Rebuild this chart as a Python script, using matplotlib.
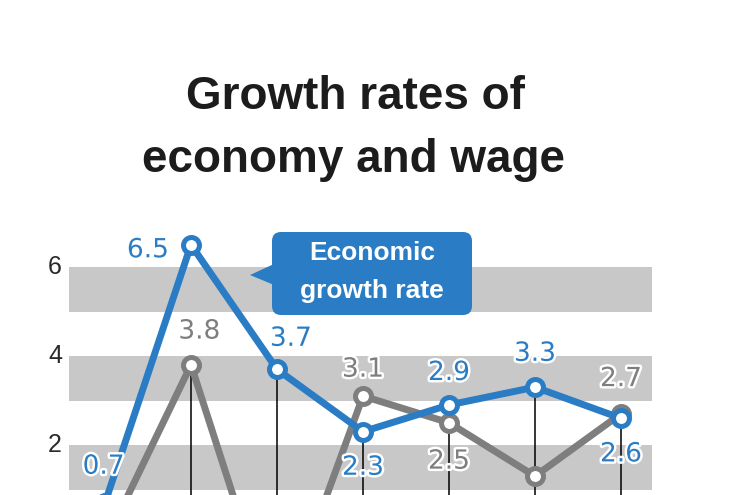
import matplotlib
matplotlib.use('Agg')
import matplotlib.pyplot as plt
import matplotlib.patheffects as pe
from matplotlib.patches import FancyBboxPatch, Polygon
from matplotlib.transforms import Affine2D

# data (2009-2015, %)
years = ['2009', '2010', '2011', '2012', '2013', '2014', '2015']
economy = [0.7, 6.5, 3.7, 2.3, 2.9, 3.3, 2.6]
wage = [-0.2, 3.8, -2.2, 3.1, 2.5, 1.3, 2.7]
drop_top = [None, 3.8, 3.7, 2.3, 2.5, 3.3, 2.6]
yticks = [2, 4, 6]
bands = [(1, 2), (3, 4), (5, 6)]

blue = '#2a7dc4'
grey = '#7e7e7e'
band_col = '#c8c8c8'

fig = plt.figure(figsize=(7.5, 4.95), dpi=100)
ax = fig.add_axes([0, 0, 1, 1])
ax.set_xlim(-105 / 86, 645 / 86)
ax.set_ylim((534 - 495) / 44.5, 534 / 44.5)
ax.axis('off')

# pixel coords measured from the top-left corner, for the decorations
pix = Affine2D().scale(1 / 750, -1 / 495).translate(0, 1) + fig.transFigure

x = list(range(len(years)))

for lo, hi in bands:
    ax.fill_between([-36 / 86, 547 / 86], lo, hi, color=band_col, lw=0, zorder=0)

for i, top in zip(x, drop_top):
    if top is not None:
        ax.vlines(i, -5, top, color='black', lw=1.1, zorder=1)

ax.plot(x, wage, color=grey, lw=5, marker='o', ms=11.5, mfc='white',
        mec=grey, mew=3.6, zorder=3, solid_joinstyle='miter')
ax.plot(x, economy, color=blue, lw=5, marker='o', ms=11.5, mfc='white',
        mec=blue, mew=3.6, zorder=4, solid_joinstyle='miter')

halo = [pe.withStroke(linewidth=3.5, foreground='white')]
eco_off = [(-1, 26), (-31, -4), (10, 22), (0, -26), (0, 23), (0, 24), (0, -26)]
wage_off = [(0, -25), (6, 24), (0, -25), (0, 19), (0, -28), (0, -27), (0, 25)]
for i in x:
    ax.annotate('{:.1f}'.format(economy[i]), (i, economy[i]), xytext=eco_off[i],
                textcoords='offset points', ha='center', va='center',
                fontsize=19, color=blue, path_effects=halo, zorder=6,
                family='DejaVu Sans', annotation_clip=False)
    # wage labels of points below the cropped bottom edge stay hidden
    ax.annotate('{:.1f}'.format(wage[i]), (i, wage[i]), xytext=wage_off[i],
                textcoords='offset points', ha='center', va='center',
                fontsize=19, color=grey, path_effects=halo, zorder=5,
                family='DejaVu Sans')

for t in yticks:
    ax.text(-50 / 86, t, str(t), ha='center', va='center', fontsize=18,
            color='#2a2a2a', family='Liberation Sans')

# callout box
box = FancyBboxPatch((272, 232), 200, 83, boxstyle='round,pad=0,rounding_size=9',
                     transform=pix, facecolor=blue, edgecolor='none', zorder=7)
fig.add_artist(box)
fig.add_artist(Polygon([(250, 275), (274, 264), (274, 285)], closed=True,
                       transform=pix, facecolor=blue, edgecolor='none', zorder=7))
fig.text(372, 253, 'Economic', transform=pix, ha='center', va='center',
         fontsize=19, fontweight='bold', color='white', family='Liberation Sans', zorder=8)
fig.text(372, 291, 'growth rate', transform=pix, ha='center', va='center',
         fontsize=19, fontweight='bold', color='white', family='Liberation Sans', zorder=8)

# title
fig.text(355, 97, 'Growth rates of', transform=pix, ha='center', va='center',
         fontsize=33, fontweight='bold', color='#1c1c1c', family='Liberation Sans')
fig.text(354, 160, 'economy and wage', transform=pix, ha='center', va='center',
         fontsize=33, fontweight='bold', color='#1c1c1c', family='Liberation Sans')

fig.savefig('out.png', dpi=100)
